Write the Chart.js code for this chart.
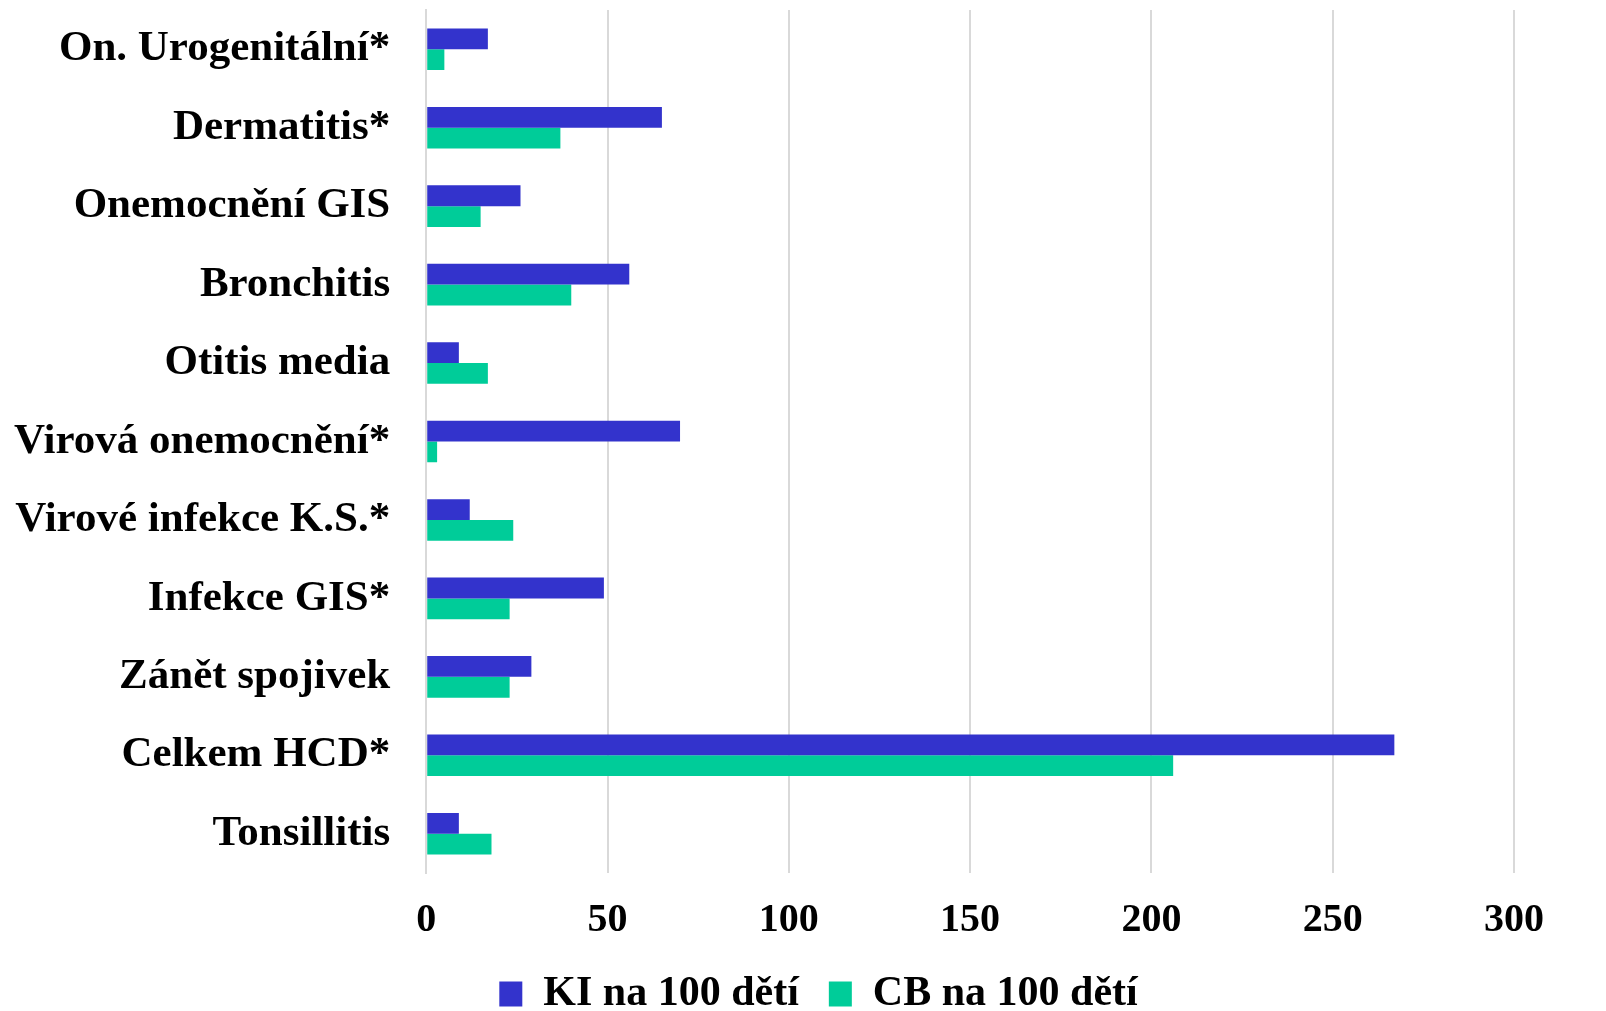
<!DOCTYPE html>
<html>
<head>
<meta charset="utf-8">
<script src="https://cdn.jsdelivr.net/npm/chart.js@4/dist/chart.umd.min.js"></script>
<style>
  html, body { margin: 0; padding: 0; background: #fff; }
  #wrap { width: 1606px; height: 1011px; }
</style>
</head>
<body>
<div id="wrap"><canvas id="chart"></canvas></div>
<script>
// Categories (top to bottom)
const categories = [
  'On. Urogenitální*', 'Dermatitis*', 'Onemocnění GIS', 'Bronchitis',
  'Otitis media', 'Virová onemocnění*', 'Virové infekce K.S.*',
  'Infekce GIS*', 'Zánět spojivek', 'Celkem HCD*', 'Tonsillitis'
];
const kiValues = [17, 65, 26, 56, 9, 70, 12, 49, 29, 267, 9];
const cbValues = [5, 37, 15, 40, 17, 3, 24, 23, 23, 206, 18];
const xTicks = [0, 50, 100, 150, 200, 250, 300];

const serif = "'Liberation Serif', 'Times New Roman', serif";

new Chart(document.getElementById('chart'), {
  type: 'bar',
  data: {
    labels: categories,
    datasets: [
      { label: 'KI na 100 dětí', data: kiValues, backgroundColor: '#3333CC', borderWidth: 0 },
      { label: 'CB na 100 dětí', data: cbValues, backgroundColor: '#00CC99', borderWidth: 0 },
    ],
  },
  options: {
    indexAxis: 'y',
    responsive: true,
    maintainAspectRatio: false,
    animation: false,
    // right padding is negative so the legend centres further right;
    // the x axis paddingRight below gives the plot its margin back
    layout: { padding: { left: -22, right: -53, top: 10, bottom: -14 } },
    datasets: { bar: { barPercentage: 1, categoryPercentage: 0.53 } },
    scales: {
      x: {
        min: 0,
        max: 300,
        afterBuildTicks: (axis) => { axis.ticks = xTicks.map(v => ({ value: v })); },
        // trim blank space under the tick labels so the legend sits closer
        afterFit: (s) => { s.height = s.height - 26; s.paddingRight = 92; },
        grid: { color: '#d9d9d9', lineWidth: 2, drawTicks: false },
        border: { display: false },
        ticks: {
          padding: 28,
          color: '#000',
          font: { family: serif, size: 40, weight: 'bold', lineHeight: 1 },
        },
      },
      y: {
        grid: { display: false, drawTicks: false },
        border: { display: true, color: '#d9d9d9', width: 2 },
        afterFit: (s) => { s.paddingTop = 0; s.paddingBottom = 0; },
        ticks: {
          padding: 36,
          color: '#000',
          font: { family: serif, size: 43, weight: 'bold' },
        },
      },
    },
    plugins: {
      legend: {
        position: 'bottom',
        labels: {
          boxWidth: 23,
          boxHeight: 25,
          padding: 30,
          color: '#000',
          font: { family: serif, size: 42, weight: 'bold', lineHeight: 1 },
        },
      },
      tooltip: { enabled: false },
    },
  },
});
</script>
</body>
</html>
